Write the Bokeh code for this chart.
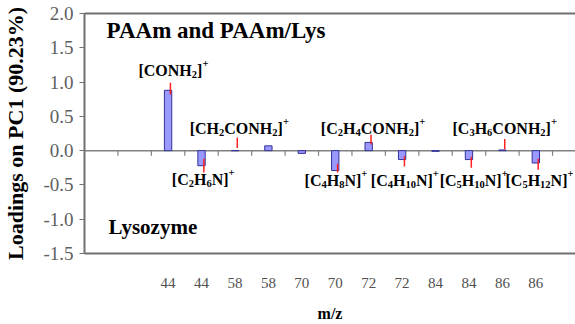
import math
from bokeh.plotting import figure
from bokeh.models import Range1d, LinearAxis, FixedTicker, NumeralTickFormatter, ColumnDataSource
from bokeh.core.properties import value
from bokeh.embed import file_html
from bokeh.resources import INLINE

# ---------------- data ----------------
mz_labels = ["44", "44", "58", "58", "70", "70", "72", "72", "84", "84", "86", "86"]
loadings = [0.88, -0.22, 0.0, 0.07, -0.04, -0.29, 0.12, -0.13, -0.01, -0.13, 0.01, -0.18]
red_low = [0.82, -0.32, 0.04, float("nan"), float("nan"), -0.32, 0.09, -0.23, float("nan"), -0.25, 0.02, -0.28]
red_high = [0.99, -0.12, 0.19, float("nan"), float("nan"), -0.19, 0.23, -0.08, float("nan"), -0.09, 0.17, -0.12]
ion_names = ["[CONH2]+", "[C2H6N]+", "[CH2CONH2]+", "[C4H8N]+", "[C2H4CONH2]+",
             "[C4H10N]+", "[C5H10N]+", "[C3H6CONH2]+", "[C5H12N]+"]
ion_cat = [0, 1, 2, 5, 6, 7, 9, 10, 11]
y_ticks = [-1.5, -1.0, -0.5, 0.0, 0.5, 1.0, 1.5, 2.0]
y_label = "Loadings on PC1 (90.23%)"
x_label = "m/z"
top_note = "PAAm and PAAm/Lys"
bottom_note = "Lysozyme"

# ---------------- layout ----------------
FONT = "Liberation Serif"
AXFONT = "'Liberation Serif'"
first_slot = 2
n_slots = (575 - 83) / 33.5
centers = [first_slot + i + 0.5 for i in range(len(mz_labels))]
ion_dx = [0.16, 0.05, 0.13, 0.02, 0.13, 0.08, 0.14, 0.07, 0.11]
ion_y = [1.17, -0.42, 0.33, -0.44, 0.33, -0.44, -0.44, 0.33, -0.44]
ION_PX = 16
SUB_PX = 10.5

W = {"[": 333, "]": 333, "C": 722, "O": 778, "N": 722, "H": 778, "+": 570}

p = figure(width=575, height=324, output_backend="svg", toolbar_location=None,
           x_range=Range1d(0, n_slots), y_range=Range1d(-1.5, 2.0),
           min_border_left=83, min_border_right=0, min_border_top=13, min_border_bottom=70,
           background_fill_color="white", border_fill_color="white")
p.outline_line_color = None
p.xgrid.visible = False
p.ygrid.visible = False

# left axis
ya = p.yaxis[0]
ya.ticker = FixedTicker(ticks=y_ticks)
ya.formatter = NumeralTickFormatter(format="0.0")
ya.axis_line_color = "#707070"
ya.axis_line_width = 2
ya.major_tick_line_color = "#707070"
ya.major_tick_out = 5
ya.major_tick_in = 0
ya.minor_tick_line_color = None
ya.major_label_text_font = AXFONT
ya.major_label_text_font_size = "19px"
ya.major_label_text_color = "#606060"
ya.major_label_standoff = 6
ya.axis_label = y_label
ya.axis_label_text_font = AXFONT
ya.axis_label_text_font_style = "bold"
ya.axis_label_text_font_size = "22px"
ya.axis_label_text_color = "black"
ya.axis_label_standoff = 12

# bottom axis (frame bottom + labels)
xa = p.xaxis[0]
xa.ticker = FixedTicker(ticks=centers)
xa.major_label_overrides = {c: l for c, l in zip(centers, mz_labels)}
xa.axis_line_color = "#707070"
xa.axis_line_width = 2
xa.major_tick_out = 0
xa.major_tick_in = 0
xa.minor_tick_line_color = None
xa.major_label_text_font = AXFONT
xa.major_label_text_font_size = "15px"
xa.major_label_text_color = "#505050"
xa.major_label_standoff = 24
xa.axis_label = x_label
xa.axis_label_text_font = AXFONT
xa.axis_label_text_font_style = "bold"
xa.axis_label_text_font_size = "16px"
xa.axis_label_text_color = "black"
xa.axis_label_standoff = 14

# top border
ta = LinearAxis(ticker=FixedTicker(ticks=[]), axis_line_color="#707070", axis_line_width=2,
                major_tick_out=0, major_tick_in=0, minor_tick_line_color=None,
                major_label_text_font_size="0px")
p.add_layout(ta, "above")

# zero line with category boundary ticks
p.segment(x0=[0], y0=[0], x1=[n_slots], y1=[0], line_color="#808080", line_width=1.5)
bounds = list(range(1, int(n_slots) + 1))
p.ray(x=bounds, y=[0] * len(bounds), length=5, length_units="screen", angle=-math.pi / 2,
      line_color="#808080", line_width=1.2)

# bars
p.vbar(x=centers, top=loadings, bottom=0, width=0.22, fill_color="#9999FF",
       line_color="#333399", line_width=1)

# red lines
rx = [c + 0.07 for c in centers]
p.segment(x0=rx, y0=red_low, x1=rx, y1=red_high, line_color="#FF2020", line_width=1.5)

# ion labels with sub/superscripts
segs = {"n": dict(x=[], y=[], t=[], dx=[]), "s": dict(x=[], y=[], t=[], dx=[]), "p": dict(x=[], y=[], t=[], dx=[])}
for name, ci, dx, yy in zip(ion_names, ion_cat, ion_dx, ion_y):
    parts = []
    for ch in name:
        kind = "s" if ch.isdigit() else ("p" if ch == "+" else "n")
        size = ION_PX if kind == "n" else SUB_PX
        wpx = (500 if ch.isdigit() else W.get(ch, 600)) / 1000 * size
        if parts and parts[-1][0] == kind:
            parts[-1][1] += ch
            parts[-1][2] += wpx
        else:
            parts.append([kind, ch, wpx])
    total = sum(pp[2] for pp in parts)
    pos = -total / 2
    for kind, txt, wpx in parts:
        d = segs[kind]
        d["x"].append(centers[ci] + dx)
        d["y"].append(yy)
        d["t"].append(txt)
        d["dx"].append(pos)
        pos += wpx

for kind, size, yoff in [("n", ION_PX, 0), ("s", SUB_PX, 4), ("p", SUB_PX, -7)]:
    d = segs[kind]
    src = ColumnDataSource(dict(x=d["x"], y=d["y"], t=d["t"], dx=d["dx"]))
    p.text(x="x", y="y", text="t", x_offset="dx", y_offset=yoff, source=src,
           text_font=value(FONT), text_font_style="bold", text_font_size=f"{size}px",
           text_align="left", text_baseline="alphabetic", text_color="black")

# notes
p.text(x=[0.66], y=[1.748], text=[top_note], text_font=value(FONT), text_font_style="bold",
       text_font_size="23px", text_align="left", text_baseline="middle", text_color="black")
p.text(x=[0.72], y=[-1.107], text=[bottom_note], text_font=value(FONT), text_font_style="bold",
       text_font_size="21px", text_align="left", text_baseline="middle", text_color="black")

open("out.html", "w").write(file_html(p, INLINE))
